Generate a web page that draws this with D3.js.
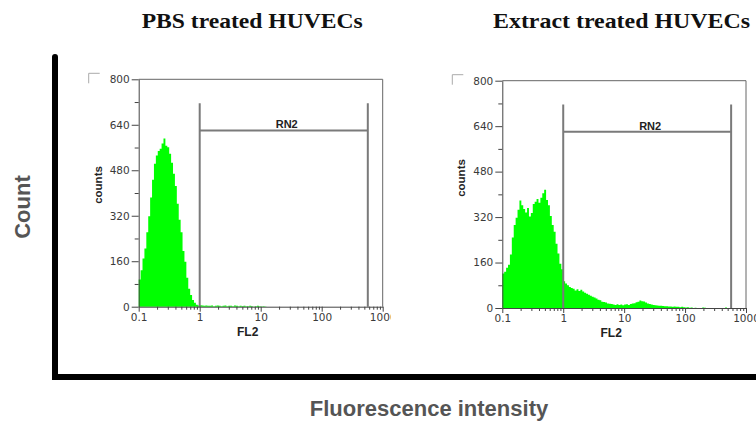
<!DOCTYPE html>
<html lang="en">
<head>
    <meta charset="UTF-8">
    <title>FL2 histograms - HUVECs</title>
    <style>
        body {
            margin: 0;
            background: #ffffff;
            overflow: hidden;
        }
        svg { display: block; }
        .tick text {
            font-family: 'DejaVu Sans', sans-serif;
            font-size: 10.5px;
            fill: #3a3a3a;
        }
        .tick line, .domain { stroke: #444; }
        .panel-title {
            font-family: 'Liberation Serif', 'Times New Roman', serif;
            font-weight: bold;
            font-size: 22px;
            fill: #111;
        }
        .small-label {
            font-family: 'Liberation Sans', Arial, sans-serif;
            font-weight: bold;
            fill: #222;
        }
        .big-label {
            font-family: 'Liberation Sans', Arial, sans-serif;
            font-weight: bold;
            fill: #555;
        }
    </style>
</head>
<body>
<script src="https://d3js.org/d3.v7.min.js"></script>
<script>
    // ---- data -------------------------------------------------------------
    const panelTitles = ["PBS treated HUVECs", "Extract treated HUVECs"];

    // histogram channels: 32 channels per decade starting at FL2 = 0.1
    const channelsPerDecade = 32;
    const fl2Start = 0.1;

    // counts per channel, PBS treated
    const pbsCounts = [
        96, 128, 170, 205, 262, 318, 384, 447, 503, 532, 548, 556, 574, 592, 566, 561,
        538, 506, 468, 425, 362, 306, 262, 196, 158, 102, 63, 41, 24, 14, 7, 4,
        5, 4, 3, 4, 3, 3, 4, 2, 3, 4, 3, 2, 3, 4, 2, 3,
        3, 2, 4, 3, 2, 3, 2, 3, 2, 2, 3, 2, 1, 2, 3, 2,
        1, 2, 1
    ];

    // counts per channel, extract treated
    const extractCounts = [
        121, 128, 142, 152, 188, 248, 292, 318, 346, 378, 362, 348, 336, 352, 322, 334,
        366, 374, 384, 370, 388, 404, 416, 380, 362, 324, 292, 268, 226, 192, 156, 136,
        94, 86, 80, 74, 70, 68, 62, 66, 60, 64, 58, 54, 50, 47, 43, 40,
        37, 33, 29, 27, 22, 21, 19, 16, 15, 14, 12, 11, 13, 11, 12, 10,
        12, 13, 11, 14, 16, 17, 20, 22, 26, 24, 23, 19, 16, 14, 12, 11,
        10, 9, 8, 8, 7, 6, 6, 5, 5, 4, 5, 4, 4, 3, 4, 3,
        2, 3, 1, 2, 0, 1, 0, 0, 0, 2, 1, 0, 0, 0, 0, 0,
        0, 0, 0, 0, 0, 2
    ];

    const xTickValues = [0.1, 1, 10, 100, 1000];
    const xTickLabels = ["0.1", "1", "10", "100", "1000"];
    const yTickValues = [0, 160, 320, 480, 640, 800];
    const yTickLabels = ["0", "160", "320", "480", "640", "800"];
    const yMinorValues = [80, 240, 400, 560, 720];

    // RN2 gate: FL2 range, bar level and line top (counts)
    const gateRange = [1, 570];
    const gateBar = 620;
    const gateTop = 716;

    // ---- layout -----------------------------------------------------------
    const W = 756, H = 422;
    const panels = [
        { title: panelTitles[0], counts: pbsCounts, left: 138.7, right: 382.7, top: 79.3, bottom: 306.7,
          titleX: 141.7, titleW: 221, countsY: 185, clipRight: 391 },
        { title: panelTitles[1], counts: extractCounts, left: 502.3, right: 746, top: 80.7, bottom: 308,
          titleX: 493, titleW: 257, countsY: 178, clipRight: W }
    ];

    const svg = d3.select("body").append("svg")
        .attr("width", W)
        .attr("height", H);

    // big outer L-shaped axes
    svg.append("path")
        .attr("d", "M55,57 L55,377 L756,377")
        .attr("fill", "none")
        .attr("stroke", "#000")
        .attr("stroke-width", 6)
        .attr("stroke-linecap", "round")
        .attr("stroke-linejoin", "miter");

    svg.append("text")
        .attr("class", "big-label")
        .attr("font-size", 22)
        .attr("text-anchor", "middle")
        .attr("transform", "translate(30,207) rotate(-90)")
        .text("Count");

    svg.append("text")
        .attr("class", "big-label")
        .attr("font-size", 22)
        .attr("text-anchor", "middle")
        .attr("x", 429)
        .attr("y", 416)
        .text("Fluorescence intensity");

    const channelEdge = i => fl2Start * Math.pow(10, i / channelsPerDecade);

    panels.forEach((p, k) => {
        const x = d3.scaleLog().domain([0.1, 1000]).range([p.left, p.right]);
        const y = d3.scaleLinear().domain([0, 800]).range([p.bottom, p.top]);

        const clipId = "clip" + k;
        svg.append("clipPath").attr("id", clipId)
            .append("rect").attr("x", 0).attr("y", 0).attr("width", p.clipRight).attr("height", H);

        const g = svg.append("g").attr("clip-path", `url(#${clipId})`);

        // title
        g.append("text")
            .attr("class", "panel-title")
            .attr("x", p.titleX)
            .attr("y", 27.7)
            .attr("textLength", p.titleW)
            .attr("lengthAdjust", "spacingAndGlyphs")
            .text(p.title);

        // histogram (step area)
        const pts = p.counts.map((c, i) => ({ fl: channelEdge(i), c: c }));
        pts.push({ fl: channelEdge(p.counts.length), c: 0 });
        const area = d3.area()
            .curve(d3.curveStepAfter)
            .x(d => x(d.fl))
            .y0(y(0))
            .y1(d => y(d.c));
        g.append("path")
            .datum(pts)
            .attr("d", area)
            .attr("fill", "#00ff00");

        // plot frame (top / right)
        g.append("path")
            .attr("d", `M${p.left},${p.top} H${p.right} V${p.bottom}`)
            .attr("fill", "none")
            .attr("stroke", "#666")
            .attr("stroke-width", 1);

        // small corner mark
        g.append("path")
            .attr("d", `M${p.left - 39},${p.top - 6} H${p.left - 50} V${p.top + 4}`)
            .attr("fill", "none")
            .attr("stroke", "#aaa")
            .attr("stroke-width", 1);

        // gate RN2
        const gx0 = x(gateRange[0]), gx1 = x(gateRange[1]);
        g.append("path")
            .attr("d", `M${gx0},${y(gateTop)} V${y(0)} M${gx1},${y(gateTop)} V${y(0)}`)
            .attr("stroke", "#7a7a7a")
            .attr("stroke-width", 2)
            .attr("fill", "none");
        g.append("line")
            .attr("x1", gx0).attr("x2", gx1)
            .attr("y1", y(gateBar)).attr("y2", y(gateBar))
            .attr("stroke", "#7a7a7a")
            .attr("stroke-width", 2);
        g.append("text")
            .attr("class", "small-label")
            .attr("font-size", 11)
            .attr("text-anchor", "middle")
            .attr("x", (gx0 + gx1) / 2 + 3)
            .attr("y", y(gateBar) - 2)
            .text("RN2");

        // y axis
        g.append("g")
            .attr("transform", `translate(${p.left},0)`)
            .call(d3.axisLeft(y).tickValues(yTickValues).tickSize(7).tickPadding(2).tickSizeOuter(0)
                .tickFormat((d, i) => yTickLabels[i]));
        g.append("g")
            .attr("transform", `translate(${p.left},0)`)
            .call(d3.axisLeft(y).tickValues(yMinorValues).tickSize(4).tickFormat("").tickSizeOuter(0))
            .select(".domain").remove();

        // x axis
        const minor = [];
        [0.1, 1, 10, 100].forEach(dec => d3.range(2, 10).forEach(m => minor.push(dec * m)));
        g.append("g")
            .attr("transform", `translate(0,${p.bottom})`)
            .call(d3.axisBottom(x).tickValues(xTickValues).tickSize(5).tickPadding(2).tickSizeOuter(0)
                .tickFormat((d, i) => xTickLabels[i]));
        g.append("g")
            .attr("transform", `translate(0,${p.bottom})`)
            .call(d3.axisBottom(x).tickValues(minor).tickSize(3).tickFormat("").tickSizeOuter(0))
            .select(".domain").remove();

        // axis names
        g.append("text")
            .attr("class", "small-label")
            .attr("font-size", 11.5)
            .attr("text-anchor", "middle")
            .attr("transform", `translate(${p.left - 37},${p.countsY}) rotate(-90)`)
            .text("counts");
        g.append("text")
            .attr("class", "small-label")
            .attr("font-size", 12)
            .attr("text-anchor", "middle")
            .attr("x", (p.left + p.right) / 2 - 13)
            .attr("y", p.bottom + 29)
            .text("FL2");
    });
</script>
</body>
</html>
